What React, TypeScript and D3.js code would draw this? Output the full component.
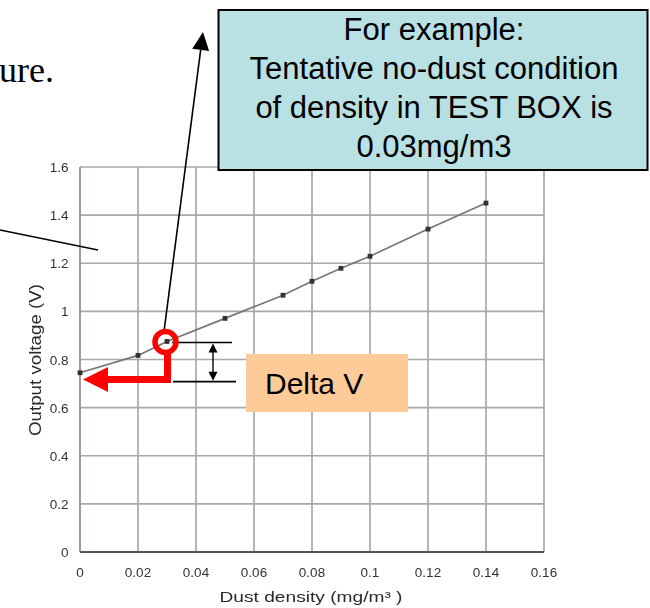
import React from "react";
import * as d3 from "d3";

const densityValues = [0, 0.02, 0.03, 0.05, 0.07, 0.08, 0.09, 0.1, 0.12, 0.14];
const voltageValues = [0.745, 0.817, 0.875, 0.971, 1.067, 1.125, 1.179, 1.229, 1.342, 1.45];
const xTickValues = [0, 0.02, 0.04, 0.06, 0.08, 0.1, 0.12, 0.14, 0.16];
const xTickLabels = ["0", "0.02", "0.04", "0.06", "0.08", "0.1", "0.12", "0.14", "0.16"];
const yTickValues = [0, 0.2, 0.4, 0.6, 0.8, 1, 1.2, 1.4, 1.6];
const yTickLabels = ["0", "0.2", "0.4", "0.6", "0.8", "1", "1.2", "1.4", "1.6"];
const boxLines = [
  "For example:",
  "Tentative no-dust condition",
  "of density in TEST BOX is",
  "0.03mg/m3",
];
const xTitle = "Dust density (mg/m\u00B3 )";
const yTitle = "Output voltage (V)";
const highlightDensity = 0.03;
const highlightVoltage = 0.875;
const deltaLowVoltage = 0.708;
const arrowVoltage = 0.717;

export default function App() {
  const x = d3.scaleLinear().domain([0, 0.16]).range([80, 544]);
  const y = d3.scaleLinear().domain([0, 1.6]).range([552, 167]);
  const line = d3
    .line<number>()
    .x((_, i) => x(densityValues[i]))
    .y((d) => y(d));

  const hx = x(highlightDensity);
  const hy = y(highlightVoltage);
  const lowY = y(deltaLowVoltage);
  const arrY = y(arrowVoltage);

  // big arrow from highlight to box
  const ax0 = hx - 3, ay0 = hy - 10;
  const ax1 = 203, ay1 = 32;
  const dx = ax1 - ax0, dy = ay1 - ay0;
  const len = Math.hypot(dx, dy);
  const ux = dx / len, uy = dy / len;
  const headL = 18, headW = 8.5;
  const bx = ax1 - ux * headL, by = ay1 - uy * headL;
  const px = -uy, py = ux;

  const font = "'Liberation Sans', Arial, sans-serif";

  return (
    <svg
      width={650}
      height={608}
      style={{ position: "absolute", left: 0, top: 0, background: "#fff" }}
    >
      <defs>
        <filter id="soft" x="-5%" y="-5%" width="110%" height="110%">
          <feGaussianBlur stdDeviation="0.5" />
        </filter>
      </defs>
      <g filter="url(#soft)">
        {/* grid */}
        {xTickValues.slice(1).map((v) => (
          <line key={"gx" + v} x1={x(v)} x2={x(v)} y1={y(0)} y2={y(1.6)} stroke="#a8a8a8" strokeWidth={1.7} />
        ))}
        {yTickValues.slice(1).map((v) => (
          <line key={"gy" + v} x1={x(0)} x2={x(0.16)} y1={y(v)} y2={y(v)} stroke="#a8a8a8" strokeWidth={1.7} />
        ))}
        {/* axes */}
        <line x1={x(0)} x2={x(0)} y1={y(0)} y2={y(1.6)} stroke="#9a8f92" strokeWidth={1.8} />
        <line x1={x(0)} x2={x(0.16)} y1={y(0)} y2={y(0)} stroke="#555" strokeWidth={2} />
        {/* series */}
        <path d={line(voltageValues) || ""} fill="none" stroke="#777" strokeWidth={1.7} />
        {voltageValues.map((v, i) => (
          <rect key={"m" + i} x={x(densityValues[i]) - 2.4} y={y(v) - 2.4} width={4.8} height={4.8} fill="#333" />
        ))}
        {/* tick labels */}
        {xTickValues.map((v, i) => (
          <text key={"xt" + v} x={x(v)} y={577} textAnchor="middle" fontFamily={font} fontSize={13.5} fill="#333">
            {xTickLabels[i]}
          </text>
        ))}
        {yTickValues.map((v, i) => (
          <text key={"yt" + v} x={68.5} y={y(v) + 5} textAnchor="end" fontFamily={font} fontSize={13.5} fill="#333">
            {yTickLabels[i]}
          </text>
        ))}
        <text
          x={311}
          y={602}
          textAnchor="middle"
          fontFamily={font}
          fontSize={15}
          fill="#2a2a2a"
          textLength={183}
          lengthAdjust="spacingAndGlyphs"
        >
          {xTitle}
        </text>
        <text
          transform="translate(41,360) rotate(-90)"
          textAnchor="middle"
          fontFamily={font}
          fontSize={16.5}
          fill="#2a2a2a"
          textLength={152}
          lengthAdjust="spacingAndGlyphs"
        >
          {yTitle}
        </text>
      </g>

      {/* slide text */}
      <text x={-1} y={82} fontFamily="'Liberation Serif', 'Times New Roman', serif" fontSize={36} fill="#000">
        ure.
      </text>
      <line x1={0} y1={230} x2={98} y2={250} stroke="#000" strokeWidth={1.6} />

      {/* arrow to box */}
      <line x1={ax0} y1={ay0} x2={bx} y2={by} stroke="#000" strokeWidth={1.6} />
      <polygon
        points={`${ax1},${ay1} ${bx + px * headW},${by + py * headW} ${bx - px * headW},${by - py * headW}`}
        fill="#000"
      />

      {/* box */}
      <rect x={218.5} y={10} width={429} height={160} fill="#b9e0e3" stroke="#000" strokeWidth={2} />
      {boxLines.map((t, i) => (
        <text key={"bl" + i} x={434} y={40 + i * 39} textAnchor="middle" fontFamily={font} fontSize={31} fill="#000">
          {t}
        </text>
      ))}

      {/* delta V measure */}
      <line x1={hx + 5} x2={232} y1={hy + 1} y2={hy + 1} stroke="#000" strokeWidth={1.6} />
      <line x1={173} x2={236} y1={lowY} y2={lowY} stroke="#000" strokeWidth={1.6} />
      <line x1={213} x2={213} y1={hy + 9} y2={lowY - 9} stroke="#000" strokeWidth={1.4} />
      <polygon points={`213,${hy + 2} 208.5,${hy + 11} 217.5,${hy + 11}`} fill="#000" />
      <polygon points={`213,${lowY - 1} 208.5,${lowY - 10} 217.5,${lowY - 10}`} fill="#000" />

      {/* red marker */}
      <circle cx={hx - 1.5} cy={hy + 0.5} r={10.5} fill="none" stroke="#ff0000" strokeWidth={5.5} />
      <path
        d={`M ${hx + 0.5} ${hy + 11} V ${arrY} H 104`}
        fill="none"
        stroke="#ff0000"
        strokeWidth={7}
        strokeLinejoin="miter"
      />
      <polygon points={`83,${arrY} 108,${arrY - 12.5} 108,${arrY + 12.5}`} fill="#ff0000" />

      {/* Delta V box */}
      <rect x={246} y={354} width={162} height={58} fill="#fdcb98" />
      <text x={265} y={394} fontFamily={font} fontSize={30} fill="#000">
        Delta V
      </text>
    </svg>
  );
}
